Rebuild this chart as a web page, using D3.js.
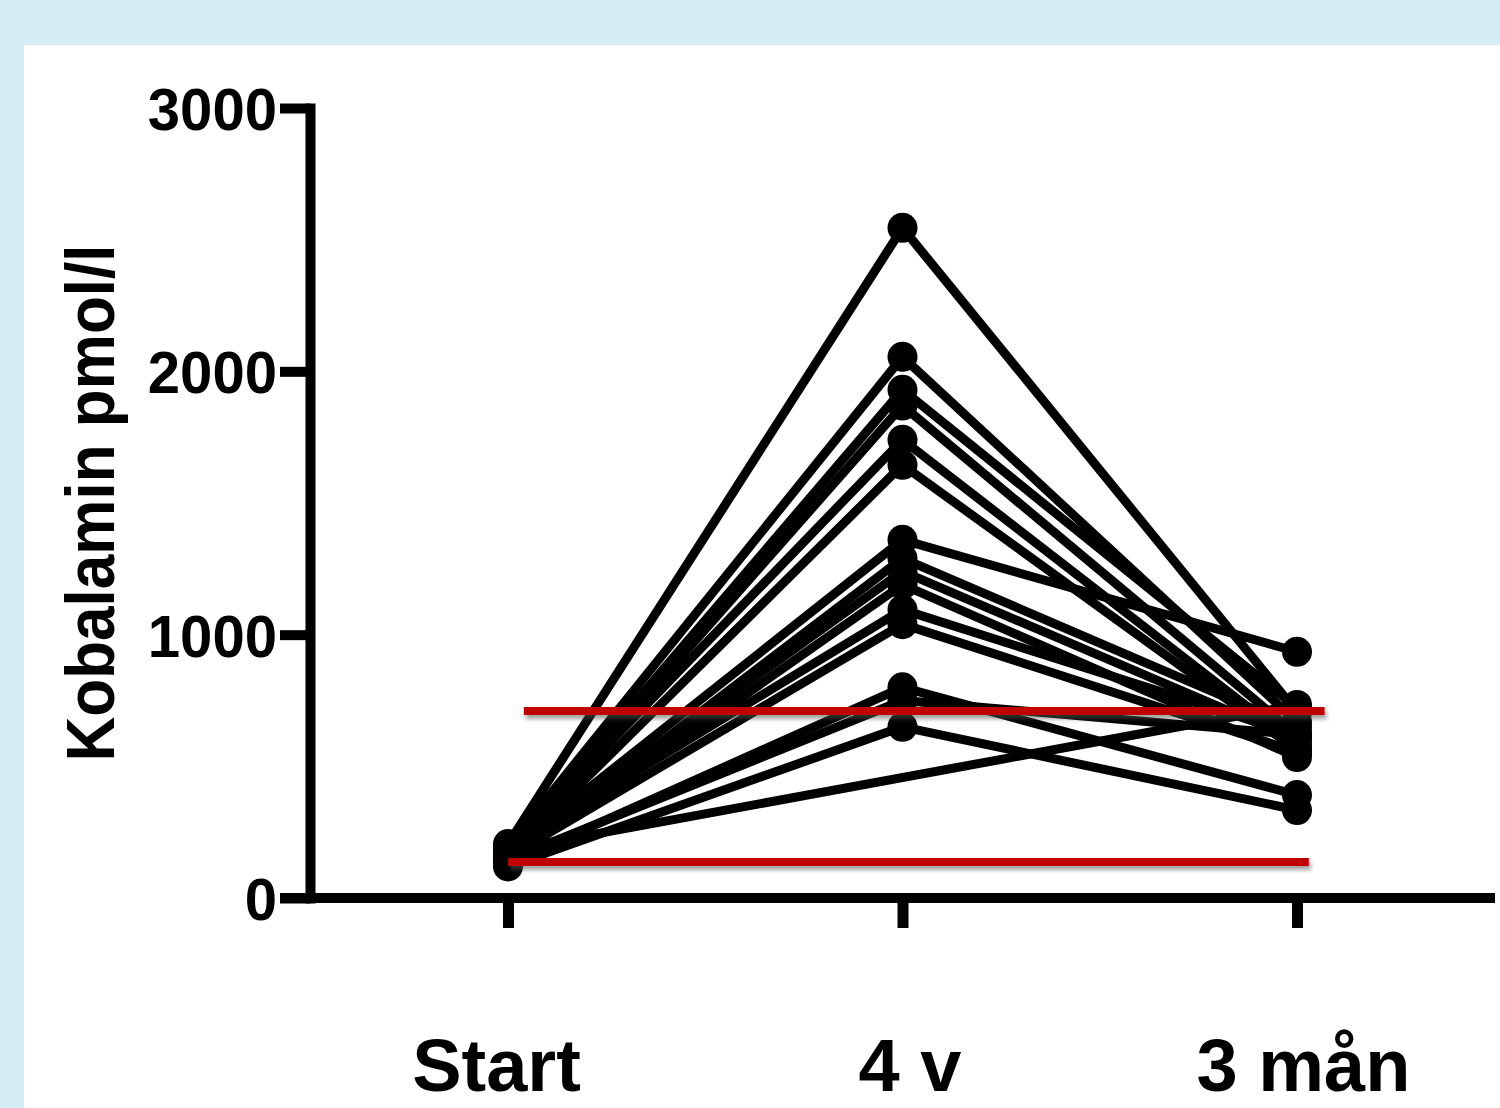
<!DOCTYPE html>
<html>
<head>
<meta charset="utf-8">
<script src="https://cdn.jsdelivr.net/npm/d3@7"></script>
<style>
  html, body { margin: 0; padding: 0; background: #d5edf4; }
  svg { display: block; }
  text { font-family: Arial, "Liberation Sans", sans-serif; font-weight: bold; fill: #000; }
</style>
</head>
<body>
<svg id="chart" width="1500" height="1108"></svg>
<script>
// ---- data ----
const categories = ["Start", "4 v", "3 mån"];
const startValues  = [205, 195, 180, 170, 190, 160, 175, 150, 165, 140, 185, 155, 130, 145, 120, 182];
const week4Values  = [2545, 2055, 1930, 1870, 1740, 1645, 1360, 1290, 1240, 1190, 1095, 1040, 800, 750, 650, null];
const month3Values = [706, 668, 722, 619, 581, 562, 935, 646, 600, 535, 619, 555, 391, 620, 334, 733];
const yTickValues = [0, 1000, 2000, 3000];
const yLabel = "Kobalamin pmol/l";
const refValues = [710, 137];          // red reference lines
const refStart = [0.04, 0.0];          // in category-index units
const refEnd = [2.07, 2.03];

// ---- setup ----
const svg = d3.select("#chart");
svg.append("rect").attr("x", 24).attr("y", 45).attr("width", 1476).attr("height", 1063).attr("fill", "#fff");

const defs = svg.append("defs");
const f = defs.append("filter").attr("id", "shadow").attr("filterUnits", "userSpaceOnUse")
  .attr("x", 0).attr("y", 0).attr("width", 1500).attr("height", 1108);
f.append("feDropShadow").attr("dx", 2).attr("dy", 4).attr("stdDeviation", 2).attr("flood-color", "#555").attr("flood-opacity", 0.55);

const y = d3.scaleLinear().domain([0, 3000]).range([898, 108]);
const x = d3.scalePoint().domain(categories).range([508, 1297]);
const xi = d3.scaleLinear().domain([0, 2]).range([508, 1297]);

// ---- series lines ----
const subjects = startValues.map((s, i) => [
  { c: categories[0], v: s },
  { c: categories[1], v: week4Values[i] },
  { c: categories[2], v: month3Values[i] }
]);
const line = d3.line().x(d => x(d.c)).y(d => y(d.v));
const gData = svg.append("g");
subjects.forEach(pts => {
  const valid = pts.filter(p => p.v != null);
  gData.append("path").attr("d", line(valid))
    .attr("fill", "none").attr("stroke", "#000").attr("stroke-width", 9).attr("stroke-linejoin", "round");
});
subjects.forEach(pts => {
  pts.filter(p => p.v != null).forEach(p => {
    gData.append("circle").attr("cx", x(p.c)).attr("cy", y(p.v)).attr("r", 15).attr("fill", "#000");
  });
});

// ---- axes ----
const yAxis = svg.append("g").attr("transform", "translate(310,0)")
  .call(d3.axisLeft(y).tickValues(yTickValues).tickSize(30).tickSizeOuter(0).tickPadding(3).tickFormat(d3.format("d")));
yAxis.select(".domain").attr("stroke", "#000").attr("stroke-width", 10).attr("stroke-linecap", "square");
yAxis.selectAll(".tick line").attr("stroke", "#000").attr("stroke-width", 10);
yAxis.selectAll(".tick text").attr("font-size", 60).attr("dy", "0.36em").attr("fill", "#000")
  .attr("textLength", d => String(d).length * 32.3).attr("lengthAdjust", "spacingAndGlyphs")
  .style("font-family", "Arial, 'Liberation Sans', sans-serif").style("font-weight", "bold");

svg.append("line").attr("x1", 280).attr("x2", 1495).attr("y1", y(0)).attr("y2", y(0))
  .attr("stroke", "#000").attr("stroke-width", 10);

const xAxis = svg.append("g").attr("transform", `translate(0,${y(0)})`)
  .call(d3.axisBottom(x).tickSize(30).tickSizeOuter(0).tickPadding(110));
xAxis.select(".domain").remove();
xAxis.selectAll(".tick line").attr("stroke", "#000").attr("stroke-width", 11);
const labelDx = [-12, 7, 6];
xAxis.selectAll(".tick text").attr("font-size", 74).attr("fill", "#000")
  .attr("dx", (d, i) => labelDx[i])
  .style("font-family", "Arial, 'Liberation Sans', sans-serif").style("font-weight", "bold");

// y label
svg.append("text")
  .attr("transform", "translate(114,503) rotate(-90)")
  .attr("text-anchor", "middle")
  .attr("font-size", 68)
  .attr("textLength", 517).attr("lengthAdjust", "spacingAndGlyphs")
  .text(yLabel);

// ---- reference lines ----
refValues.forEach((v, i) => {
  svg.append("line")
    .attr("x1", xi(refStart[i])).attr("x2", xi(refEnd[i]))
    .attr("y1", y(v)).attr("y2", y(v))
    .attr("stroke", "#c00000").attr("stroke-width", 8)
    .attr("filter", "url(#shadow)");
});
</script>
</body>
</html>
